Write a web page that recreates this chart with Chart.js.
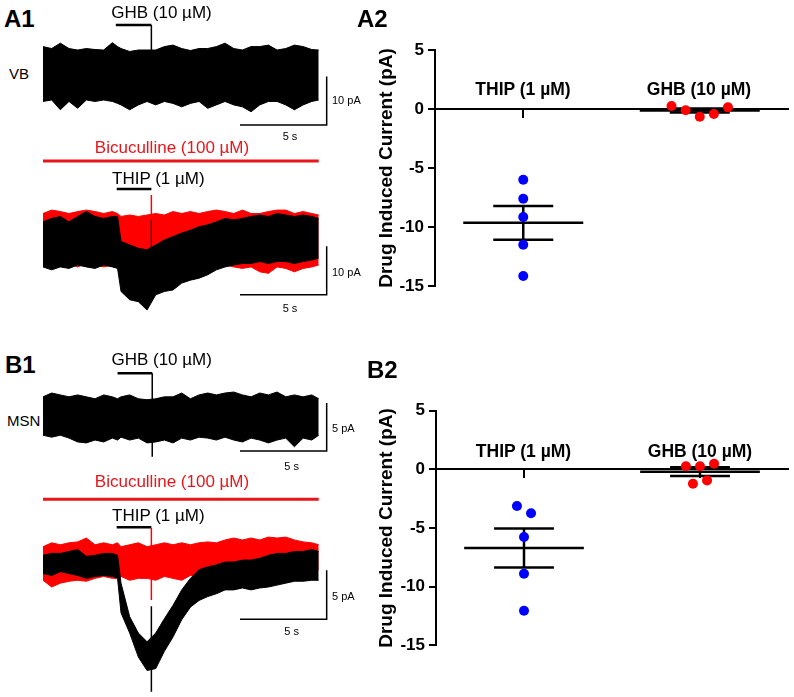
<!DOCTYPE html>
<html>
<head>
<meta charset="utf-8">
<script src="https://cdn.jsdelivr.net/npm/chart.js@4.4.0/dist/chart.umd.min.js"></script>
<style>
  body { margin: 0; background: #fff; }
  #fig { position: relative; width: 794px; height: 697px; overflow: hidden; font-family: "Liberation Sans", Arial, sans-serif; }
  #fig canvas { position: absolute; }
  .t { position: absolute; white-space: nowrap; line-height: 1; color: #000; }
</style>
</head>
<body>
<div id="fig"></div>
<script>
const tT = [0,0.5,1,1.5,2,2.5,3,3.5,4,4.3,4.5,5,5.5,6,6.5,7,7.5,8,8.5,9,9.5,10,10.5,11,11.5,12,12.5,13,13.5,14,14.5,15,15.5,15.9];

// A1 upper: VB neuron, GHB application (upper / lower edge of the noise band, pA)
const vbGhbTop = [5.8,5.4,6.5,5.4,5.1,5.4,5.2,5.1,6.6,5.8,5.4,4.8,5.1,5.1,5.1,5.8,6.1,5.4,5.0,5.4,5.4,5.8,6.5,5.4,5.1,5.8,5.8,6.1,5.1,5.4,6.1,5.8,5.2,5.1];
const vbGhbBot = [-5.4,-5.1,-7.1,-5.4,-6.8,-5.1,-5.4,-5.1,-5.4,-5.8,-6.1,-7.1,-6.1,-5.4,-6.1,-5.4,-5.8,-6.5,-5.8,-5.4,-6.8,-6.1,-5.4,-6.1,-6.5,-7.5,-6.1,-5.4,-5.4,-6.1,-7.1,-6.1,-5.4,-5.1];
// A1 lower: VB neuron, THIP (black) and THIP in bicuculline (red)
const vbThipTop = [3.5,4.2,4.6,3.5,4.6,5.6,4.6,4.2,4.6,4.6,-0.5,-1.2,-1.9,-2.2,-1.2,-0.2,0.5,1.2,1.8,2.5,2.9,3.5,4.2,3.9,4.2,4.6,4.9,4.6,5.2,4.9,4.6,4.9,4.6,4.2];
const vbThipBot = [-5.7,-6.3,-5.7,-6.0,-5.3,-5.7,-6.0,-5.3,-5.7,-6.0,-10.7,-12.4,-12.8,-14.5,-11.4,-10.7,-10.4,-9.0,-8.4,-8.0,-7.3,-6.3,-5.7,-5.3,-5.0,-5.0,-4.6,-5.0,-4.6,-4.6,-5.0,-4.6,-4.3,-3.9];
const vbBicTop = [5.2,5.9,5.6,5.2,5.6,5.9,5.6,5.2,5.6,5.2,4.6,4.9,4.6,4.9,5.2,4.9,5.6,5.2,5.6,5.2,5.6,5.9,5.6,5.2,5.9,5.2,5.2,5.6,5.9,5.9,5.2,5.6,5.2,4.9];
const vbBicBot = [-5.3,-5.7,-5.3,-5.0,-5.7,-5.0,-5.3,-5.7,-5.3,-5.5,-5.3,-5.3,-5.7,-5.7,-5.3,-5.7,-5.3,-5.7,-5.3,-5.0,-5.3,-5.7,-5.3,-5.7,-6.0,-5.7,-6.7,-7.0,-5.7,-6.0,-6.7,-6.0,-5.7,-5.3];
// B1 upper: MSN, GHB application
const msnGhbTop = [2.1,2.5,2.3,2.1,2.3,2.1,1.9,2.3,2.1,1.9,2.1,2.3,1.9,1.8,1.9,2.1,2.1,2.5,1.9,2.3,2.5,2.3,2.5,2.6,2.3,2.1,2.5,2.3,2.6,2.1,2.3,2.1,2.3,1.9];
const msnGhbBot = [-1.9,-2.1,-1.9,-2.2,-2.6,-2.7,-2.4,-2.6,-2.2,-2.4,-2.1,-2.4,-2.2,-2.7,-2.6,-2.4,-2.7,-2.2,-2.4,-2.1,-2.2,-2.4,-2.1,-2.4,-2.6,-2.2,-2.4,-2.7,-2.4,-2.2,-3.1,-2.2,-2.4,-1.9];
// B1 lower: MSN, THIP (black) and THIP in bicuculline (red)
const msnThipTop = [0.8,1.0,1.0,1.2,1.4,0.7,0.8,1.0,1.0,0.8,-2.1,-5.6,-7.3,-8.2,-7.3,-5.8,-4.4,-2.8,-1.6,-0.7,-0.4,-0.2,0.1,0.1,0.3,0.3,0.5,0.8,1.0,1.0,1.2,1.2,1.4,1.2];
const msnThipBot = [-1.1,-1.3,-0.9,-1.1,-1.3,-1.6,-1.4,-1.3,-1.4,-1.6,-5.2,-7.3,-9.8,-11.2,-11.0,-9.2,-7.7,-5.9,-4.6,-3.9,-3.5,-3.2,-2.8,-2.8,-2.6,-2.8,-2.6,-2.5,-2.3,-2.1,-1.9,-1.9,-1.8,-1.8];
const msnBicTop = [1.7,2.1,1.9,2.1,2.2,2.6,1.9,2.1,1.9,2.1,1.7,1.9,2.1,1.7,1.9,2.1,1.9,2.1,1.9,2.1,2.2,2.1,2.4,2.6,2.4,2.6,2.4,2.7,2.6,2.7,2.4,2.2,2.1,1.9];
const msnBicBot = [-1.8,-2.5,-2.1,-1.9,-1.8,-1.9,-1.6,-1.4,-1.6,-1.6,-1.4,-1.8,-1.6,-1.6,-1.8,-1.4,-1.6,-1.8,-1.3,-1.3,-1.1,-1.1,-0.9,-0.7,-0.7,-0.9,-0.7,-0.6,-0.7,-0.6,-0.6,-0.7,-0.7,-0.7];

// drug application periods (s)
const ghbBar = [4.2, 6.25];
const thipBar = [4.25, 6.25];
const bicBar = [0, 15.9];
// scale bars: 5 s
const scaleSec = [11.36, 16.36];

// A2 / B2 dot plots
const groups = ['THIP (1 µM)', 'GHB (10 µM)'];
const a2ThipX = [0, 0, 0, 0, 0];
const a2ThipY = [-6.0, -7.6, -9.15, -11.5, -14.15];
const a2GhbX = [-0.16, -0.08, 0, 0.08, 0.16];
const a2GhbY = [0.25, -0.1, -0.65, -0.42, 0.14];
const a2Mean = [-9.65, -0.12];
const a2Sem = [1.44, 0.17];
const b2ThipX = [-0.04, 0.04, 0, 0, 0];
const b2ThipY = [-3.12, -3.75, -5.76, -8.9, -12.06];
const b2GhbX = [-0.08, 0, 0.08, -0.04, 0.04];
const b2GhbY = [0.26, 0.26, 0.48, -1.22, -0.94];
const b2Mean = [-6.71, -0.2];
const b2Sem = [1.66, 0.37];
const yTicks = [-15, -10, -5, 0, 5];

Chart.defaults.font.family = '"Liberation Sans", Arial, sans-serif';
Chart.defaults.color = '#000';

const fig = document.getElementById('fig');
const PX_PER_S = 17.34;
const RED = '#ff0000';
const BIC_RED = '#e8161b';

function zip(xs, ys) { return xs.map((x, i) => ({x: x, y: ys[i]})); }

function seg(xs, ys, color, width) {
  return { type: 'line', data: zip(xs, ys), borderColor: color, borderWidth: width,
           pointRadius: 0, fill: false, clip: false };
}

function band(top, bot, color) {
  return [
    { type: 'line', data: zip(tT, top), borderColor: color, backgroundColor: color, borderWidth: 1,
      pointRadius: 0, fill: '+1', clip: false },
    { type: 'line', data: zip(tT, bot), borderColor: color, borderWidth: 1, pointRadius: 0, fill: false, clip: false }
  ];
}

function makeCanvas(b) {
  const c = document.createElement('canvas');
  c.width = b.w; c.height = b.h;
  c.style.left = b.left + 'px'; c.style.top = b.top + 'px';
  c.style.width = b.w + 'px'; c.style.height = b.h + 'px';
  fig.appendChild(c);
  return c;
}

// trace panel: no axes, x in s, y in pA, sized by pixels per unit
function tracePanel(b, datasets) {
  const c = makeCanvas(b);
  new Chart(c, {
    type: 'line',
    data: { datasets: datasets },
    options: {
      responsive: false, animation: false, events: [],
      layout: { padding: 0, autoPadding: false },
      plugins: { legend: { display: false }, tooltip: { enabled: false } },
      elements: { line: { tension: 0 } },
      scales: {
        x: { type: 'linear', display: false, min: 0, max: b.w / PX_PER_S },
        y: { type: 'linear', display: false, min: -(b.top + b.h - b.y0) / b.ppa, max: (b.y0 - b.top) / b.ppa }
      }
    }
  });
}

function dotPanel(b, thipX, thipY, ghbX, ghbY, mean, sem) {
  const sets = [
    { type: 'scatter', data: zip(thipX, thipY), backgroundColor: '#0000ff', borderWidth: 0, pointRadius: 5 },
    { type: 'scatter', data: zip(ghbX.map(v => v + 1), ghbY), backgroundColor: RED, borderWidth: 0, pointRadius: 5 }
  ];
  mean.forEach((m, i) => {
    sets.push(seg([i - 0.34, i + 0.34], [m, m], '#000', 2.5));
    sets.push(seg([i - 0.17, i + 0.17], [m + sem[i], m + sem[i]], '#000', 2.5));
    sets.push(seg([i - 0.17, i + 0.17], [m - sem[i], m - sem[i]], '#000', 2.5));
    sets.push(seg([i, i], [m + sem[i], m - sem[i]], '#000', 2.5));
  });
  const c = makeCanvas(b);
  new Chart(c, {
    type: 'scatter',
    data: { datasets: sets },
    options: {
      responsive: false, animation: false, events: [],
      layout: { padding: { top: b.padTop, right: b.padRight, bottom: b.padBottom, left: 0 } },
      plugins: { legend: { display: false }, tooltip: { enabled: false } },
      scales: {
        x: {
          type: 'linear', min: -0.5, max: 1.5, position: { y: 0 },
          afterFit: s => { s.height = 0; },
          afterBuildTicks: s => { s.ticks = groups.map((g, i) => ({ value: i })); },
          ticks: { display: false },
          border: { color: '#000', width: 2 },
          grid: { drawOnChartArea: false, drawTicks: true, tickLength: 8, color: '#000', lineWidth: 2 }
        },
        y: {
          type: 'linear', min: -15, max: 5, position: 'left',
          afterFit: s => { s.width = b.axisW; },
          afterBuildTicks: s => { s.ticks = yTicks.map(v => ({ value: v })); },
          ticks: { font: { size: 17, weight: 'bold' }, color: '#000', padding: 4 },
          border: { color: '#000', width: 2 },
          grid: { drawOnChartArea: false, drawTicks: true, tickLength: 7, color: '#000', lineWidth: 2 },
          title: { display: true, text: 'Drug Induced Current (pA)', color: '#000',
                   font: { size: 19, weight: 'bold' }, padding: { top: b.titlePad, bottom: 0 } }
        }
      }
    }
  });
}

function label(text, x, base, size, opt) {
  opt = opt || {};
  const d = document.createElement('div');
  d.className = 't';
  d.textContent = text;
  d.style.fontSize = size + 'px';
  d.style.top = (base - 0.8465 * size) + 'px';
  d.style.left = x + 'px';
  if (opt.bold) d.style.fontWeight = 'bold';
  if (opt.color) d.style.color = opt.color;
  if (opt.center) d.style.transform = 'translateX(-50%)';
  fig.appendChild(d);
}

// ---- A1 upper
const a1Top = { left: 43, top: 0, w: 292, h: 140, y0: 75, ppa: 4.9 };
tracePanel(a1Top, [
  ...band(vbGhbTop, vbGhbBot, '#000'),
  seg([ghbBar[1], ghbBar[1]], [10.2, 3], '#000', 1.5),
  seg(ghbBar, [10.2, 10.2], '#000', 2.5),
  seg([scaleSec[0], scaleSec[1], scaleSec[1]], [-10.2, -10.2, -0.3], '#000', 1.5)
]);

// ---- A1 lower
const a1Low = { left: 43, top: 155, w: 292, h: 170, y0: 239, ppa: 4.9 };
tracePanel(a1Low, [
  ...band(vbThipTop, vbThipBot, '#000'),
  seg([thipBar[1], thipBar[1]], [3.9, -3.3], '#000', 1.2),
  ...band(vbBicTop, vbBicBot, RED),
  seg([thipBar[1], thipBar[1]], [9.0, -1.2], RED, 1.5),
  seg(thipBar, [10.2, 10.2], '#000', 2.5),
  seg(bicBar, [15.9, 15.9], BIC_RED, 3),
  seg([scaleSec[0], scaleSec[1], scaleSec[1]], [-11.4, -11.4, -1.5], '#000', 1.5)
]);

// ---- B1 upper
const b1Top = { left: 43, top: 345, w: 292, h: 130, y0: 417, ppa: 9.6 };
tracePanel(b1Top, [
  ...band(msnGhbTop, msnGhbBot, '#000'),
  seg([ghbBar[1] + 0.05, ghbBar[1] + 0.05], [4.55, -4.15], '#000', 1.5),
  seg([ghbBar[0] + 0.1, ghbBar[1] + 0.05], [4.55, 4.55], '#000', 2.5),
  seg([scaleSec[0], scaleSec[1], scaleSec[1]], [-3.55, -3.55, 1.45], '#000', 1.5)
]);

// ---- B1 lower
const b1Low = { left: 43, top: 480, w: 292, h: 217, y0: 563, ppa: 9.6 };
tracePanel(b1Low, [
  seg([thipBar[1], thipBar[1]], [-4.5, -13.4], '#000', 1.5),
  ...band(msnThipTop, msnThipBot, '#000'),
  ...band(msnBicTop, msnBicBot, RED),
  seg([thipBar[1], thipBar[1]], [3.65, -3.85], RED, 1.5),
  seg(thipBar, [3.72, 3.72], '#000', 2.5),
  seg(bicBar, [6.64, 6.64], BIC_RED, 3),
  seg([scaleSec[0], scaleSec[1], scaleSec[1]], [-5.85, -5.85, -0.75], '#000', 1.5)
]);

// ---- A2 / B2
dotPanel({ left: 345, top: 30, w: 449, h: 280, padTop: 20, padBottom: 24, padRight: 6, axisW: 90, titlePad: 30.6 },
  a2ThipX, a2ThipY, a2GhbX, a2GhbY, a2Mean, a2Sem);
dotPanel({ left: 346, top: 390, w: 448, h: 280, padTop: 20.7, padBottom: 24.7, padRight: 6, axisW: 90, titlePad: 29.3 },
  b2ThipX, b2ThipY, b2GhbX, b2GhbY, b2Mean, b2Sem);

// ---- text
label('A1', 4, 27, 24, { bold: true });
label('GHB (10 µM)', 161.5, 18, 17, { center: true });
label('VB', 9, 79, 15);
label('10 pA', 332, 104, 11);
label('5 s', 290, 140, 11, { center: true });
label('Bicuculline (100 µM)', 172, 153, 17, { center: true, color: BIC_RED });
label('THIP (1 µM)', 158.3, 184, 17, { center: true });
label('10 pA', 332, 276, 11);
label('5 s', 290, 312, 11, { center: true });

label('A2', 357, 27, 24, { bold: true });
label(groups[0], 523, 96, 17.5, { bold: true, center: true });
label(groups[1], 699, 96, 17.5, { bold: true, center: true });

label('B1', 5, 373, 24, { bold: true });
label('GHB (10 µM)', 161.7, 365, 17, { center: true });
label('MSN', 7, 426, 15);
label('5 pA', 332, 432, 11);
label('5 s', 291.7, 470, 11, { center: true });
label('Bicuculline (100 µM)', 172, 487, 17, { center: true, color: BIC_RED });
label('THIP (1 µM)', 158.3, 521.7, 17, { center: true });
label('5 pA', 332, 600, 11);
label('5 s', 291.7, 635, 11, { center: true });

label('B2', 367, 378, 24, { bold: true });
label(groups[0], 523.5, 458, 17.5, { bold: true, center: true });
label(groups[1], 700, 458, 17.5, { bold: true, center: true });
</script>
</body>
</html>
